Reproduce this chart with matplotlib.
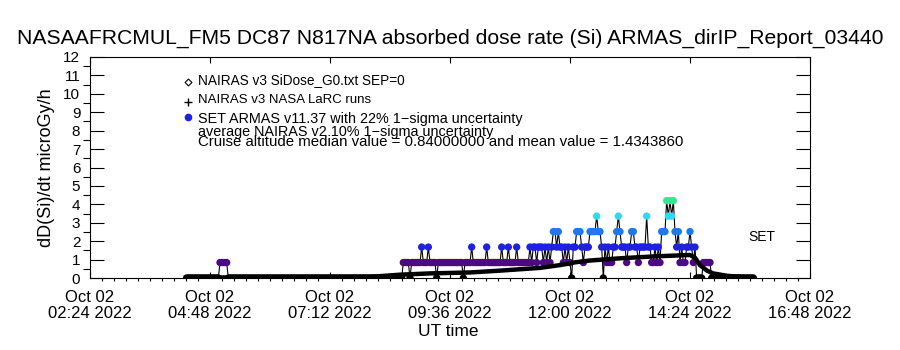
import matplotlib
matplotlib.use("Agg")
import matplotlib.pyplot as plt
from matplotlib.ticker import MultipleLocator
import numpy as np

plt.rcParams['font.family'] = ['Liberation Sans', 'DejaVu Sans']

# x axis in hours of Oct 02 2022 (UT)
tick_hours = [2.4, 4.8, 7.2, 9.6, 12.0, 14.4, 16.8]
tick_labels = ["Oct 02\n02:24 2022", "Oct 02\n04:48 2022", "Oct 02\n07:12 2022",
               "Oct 02\n09:36 2022", "Oct 02\n12:00 2022", "Oct 02\n14:24 2022",
               "Oct 02\n16:48 2022"]

# NAIRAS v3 SiDose curve (hour, microGy/h)
nairas_hours = [4.32, 6.6, 8.0, 8.2, 8.6, 9.2, 10.0, 10.6, 11.4, 11.8, 12.1, 12.4,
                13.06, 13.74, 14.4, 14.5, 14.6, 14.74, 14.86, 15.14, 15.6]
nairas_dose = [0.03, 0.03, 0.05, 0.1, 0.18, 0.25, 0.3, 0.4, 0.55, 0.7, 0.85, 0.95,
               1.08, 1.18, 1.25, 1.1, 0.7, 0.4, 0.25, 0.12, 0.02]

# ARMAS record: one sample every 2 min from 04:20, stored as level index
armas_start = 4 + 20 / 60.
armas_step = 2 / 60.
armas_levels = [0.0, 0.84, 1.68, 2.52, 3.36, 4.20]
armas_colors = ["#000000", "#4c0a82", "#2020e0", "#1e78f0", "#30d8f0", "#30e890"]
armas_code = ("0" * 20 + "1" * 5 + "0" * 105
              + "1111" + "0" + "111111" + "2" + "111" + "2" + "1111" + "0"
              + "1" * 15 + "0" + "1111" + "2" + "1" * 8 + "2" + "1" * 8 + "2"
              + "111" + "2" + "1111" + "2" + "1" * 7
              + "21221222" "12121233" "23221212" "10223332" "12223333"
              + "43320212" "11223432" "22122332" "21222242" "21121213"
              + "33545453" "23121122" "32120000" "11111"
              + "0" * 26)

idx = np.array([int(c) for c in armas_code])
armas_t = armas_start + armas_step * np.arange(len(idx))
armas_v = np.array(armas_levels)[idx]

fig = plt.figure(figsize=(9, 3.5), dpi=100)
ax = fig.add_axes([0.1, 1 - 278 / 350., 0.8, 221 / 350.])

ax.plot(armas_t, armas_v, color="black", lw=0.8, zorder=2)
for k, col in enumerate(armas_colors):
    sel = idx == k
    ax.scatter(armas_t[sel], armas_v[sel], s=28, color=col, edgecolors="none", zorder=3)
ax.plot(nairas_hours, nairas_dose, color="black", lw=3.2, zorder=4)

ax.set_xlim(2.4, 16.8)
ax.set_ylim(0, 12)
ax.set_xticks(tick_hours)
ax.set_xticklabels(tick_labels, fontsize=12, linespacing=1.0)
ax.xaxis.set_minor_locator(MultipleLocator(0.24))
ax.yaxis.set_major_locator(MultipleLocator(1))
ax.yaxis.set_minor_locator(MultipleLocator(0.5))
ax.tick_params(axis="both", direction="in", top=True, right=True, width=0.8)
ax.tick_params(axis="y", which="major", length=10, labelsize=11, pad=7)
ax.tick_params(axis="y", which="minor", length=5, width=0.8)
ax.tick_params(axis="x", which="major", length=4, pad=9)
ax.tick_params(axis="x", which="minor", length=2.5, width=0.8)
for s in ax.spines.values():
    s.set_linewidth(0.8)

ax.set_ylabel("dD(Si)/dt microGy/h", fontsize=13, labelpad=6)
fig.text(0.498, 1 - 331 / 350., "UT time", ha="center", va="center", fontsize=12.5)
fig.text(0.5, 1 - 38 / 350., "NASAAFRCMUL_FM5 DC87 N817NA absorbed dose rate (Si) ARMAS_dirIP_Report_03440",
         ha="center", va="center", fontsize=15.2)

# legend block
leg_x = 198 / 900.
fig.text(leg_x, 1 - 80 / 350., "NAIRAS v3 SiDose_G0.txt SEP=0", fontsize=9.8, va="center")
fig.text(leg_x, 1 - 100 / 350., "NAIRAS v3 NASA LaRC runs", fontsize=9.5, va="center")
fig.text(leg_x, 1 - 119 / 350., "SET ARMAS v11.37 with 22% 1\u2212sigma uncertainty", fontsize=10.4, va="center")
fig.text(leg_x, 1 - 132 / 350., "average NAIRAS v2 10% 1\u2212sigma uncertainty", fontsize=10.4, va="center")
fig.text(leg_x, 1 - 142 / 350., "Cruise altitude median value = 0.84000000 and mean value = 1.4343860",
         fontsize=10.8, va="center")
fig.lines.append(plt.Line2D([188 / 900.], [1 - 82 / 350.], marker="D", ms=3.5, mfc="white",
                            mec="black", mew=0.8, transform=fig.transFigure))
fig.lines.append(plt.Line2D([188 / 900.], [1 - 102 / 350.], marker="+", ms=6, color="black",
                            mew=1, transform=fig.transFigure))
fig.lines.append(plt.Line2D([188 / 900.], [1 - 117 / 350.], marker="o", ms=4.5, color="#2020e0",
                            transform=fig.transFigure))
fig.text(748 / 900., 1 - 237 / 350., "SET", fontsize=10, va="center")

fig.savefig("out.png", dpi=100)
